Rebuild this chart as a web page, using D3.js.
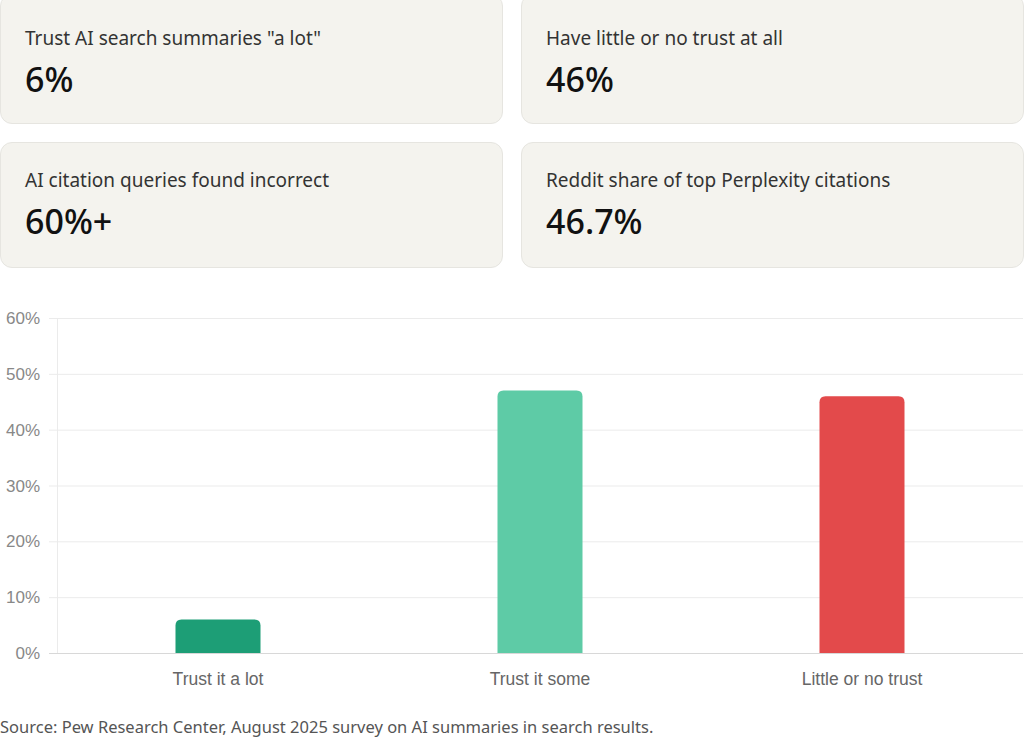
<!DOCTYPE html>
<html>
<head>
<meta charset="utf-8">
<script src="https://cdn.jsdelivr.net/npm/d3@7"></script>
<style>
  body { margin: 0; background: #fff; width: 1024px; height: 737px; overflow: hidden; position: relative; }
  .card { position: absolute; width: 503px; background: #f4f3ee; border: 1px solid #e6e5e0; border-radius: 12px; box-sizing: border-box; font-family: "Noto Sans", sans-serif; }
  .card .lab { position: absolute; left: 24px; font-size: 19px; color: #333; }
  .card .val { position: absolute; left: 24px; font-size: 34px; font-weight: 500; color: #111; }
  .src { position: absolute; left: 0; top: 715px; font-family: "Noto Sans", sans-serif; font-size: 16.5px; color: #555; }
</style>
</head>
<body>
<div id="cards"></div>
<svg id="chart" width="1024" height="737" style="position:absolute;left:0;top:0"></svg>
<div class="src">Source: Pew Research Center, August 2025 survey on AI summaries in search results.</div>
<script>
var cardLabels = ['Trust AI search summaries "a lot"', "Have little or no trust at all", "AI citation queries found incorrect", "Reddit share of top Perplexity citations"];
var cardValues = ["6%", "46%", "60%+", "46.7%"];

var categories = ["Trust it a lot", "Trust it some", "Little or no trust"];
var values = [6, 47, 46];
var colors = ["#1d9e76", "#5ecba6", "#e34a4b"];
var yTicks = [0, 10, 20, 30, 40, 50, 60];

// stat cards
cardLabels.forEach(function(l, i) {
  var c = d3.select("#cards").append("div").attr("class", "card")
    .style("left", (i % 2 ? 521 : 0) + "px")
    .style("top", (i < 2 ? -6 : 142) + "px")
    .style("height", (i < 2 ? 130 : 126) + "px");
  var off = i < 2 ? 6 : 0;
  c.append("div").attr("class", "lab").style("top", (24 + off) + "px").text(l);
  c.append("div").attr("class", "val").style("top", (55 + off) + "px").text(cardValues[i]);
});

// bar chart
var svg = d3.select("#chart");
var pLeft = 57, pRight = 1023, pTop = 318, pBottom = 653;

var x = d3.scaleBand().domain(categories).range([pLeft, pRight]).paddingInner(0.736).paddingOuter(0.368);
var y = d3.scaleLinear().domain([0, 60]).range([pBottom, pTop]);

svg.append("g").selectAll("line").data(yTicks).enter().append("line")
  .attr("x1", pLeft - 8).attr("x2", pRight)
  .attr("y1", function(d) { return y(d) + 0.5; }).attr("y2", function(d) { return y(d) + 0.5; })
  .attr("stroke", function(d) { return d === 0 ? "#d8d8d8" : "#ebebeb"; });
svg.append("line").attr("x1", pLeft + 0.5).attr("x2", pLeft + 0.5).attr("y1", pTop).attr("y2", pBottom)
  .attr("stroke", "#ebebeb");

svg.append("g").selectAll("text").data(yTicks).enter().append("text")
  .attr("x", 40).attr("y", function(d) { return y(d) + 6; })
  .attr("text-anchor", "end").attr("fill", "#888")
  .style("font", "17px 'Liberation Sans', Arial, sans-serif")
  .text(function(d) { return d + "%"; });

var r = 6;
svg.append("g").selectAll("path").data(values).enter().append("path")
  .attr("fill", function(d, i) { return colors[i]; })
  .attr("d", function(d, i) {
    var x0 = x(categories[i]), w = x.bandwidth(), y0 = y(d), y1 = y(0);
    return "M" + x0 + "," + y1 + "V" + (y0 + r) + "Q" + x0 + "," + y0 + " " + (x0 + r) + "," + y0 +
      "H" + (x0 + w - r) + "Q" + (x0 + w) + "," + y0 + " " + (x0 + w) + "," + (y0 + r) + "V" + y1 + "Z";
  });

svg.append("g").selectAll("text").data(categories).enter().append("text")
  .attr("x", function(d) { return x(d) + x.bandwidth() / 2; }).attr("y", 685)
  .attr("text-anchor", "middle").attr("fill", "#666")
  .style("font", "17.5px 'Liberation Sans', Arial, sans-serif")
  .text(function(d) { return d; });
</script>
</body>
</html>
